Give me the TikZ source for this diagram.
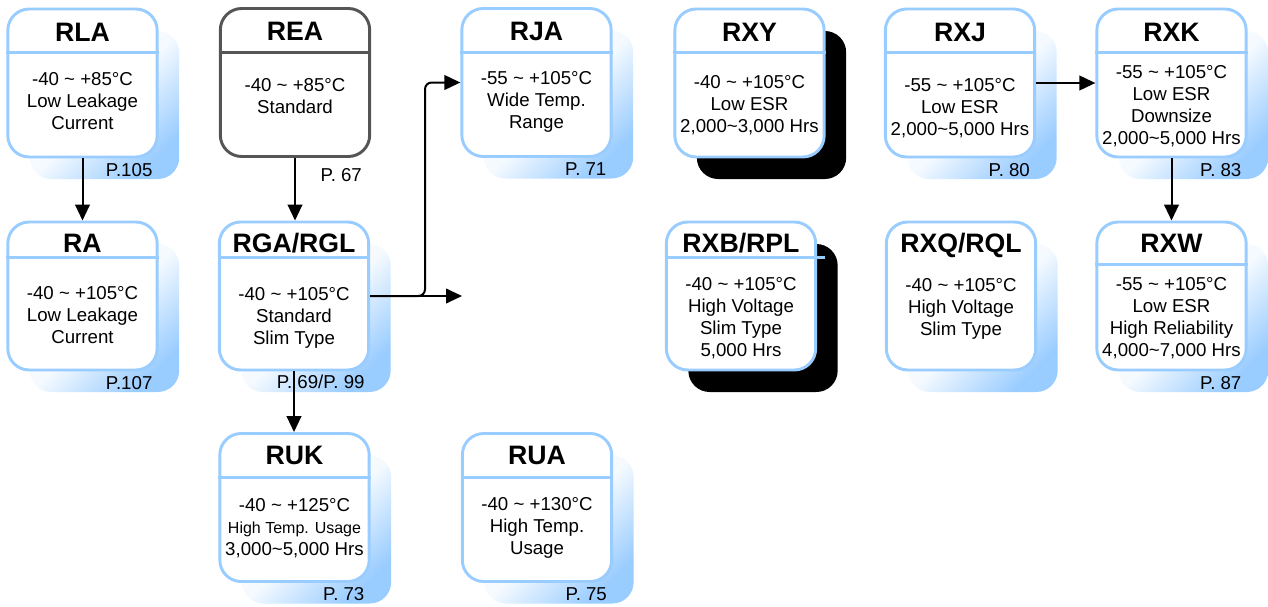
\documentclass[tikz,border=0pt]{standalone}
\usepackage{fontspec}
\setmainfont{Liberation Sans}
\usepackage{tikz}
\usetikzlibrary{arrows.meta,shadows}

\definecolor{boxblue}{HTML}{99CCFF}
\definecolor{shadeblue}{HTML}{99CCFF}
\definecolor{reagray}{HTML}{555555}
\newcommand{\tildech}{\textasciitilde}

\begin{document}
\begin{tikzpicture}[x=0.75pt, y=-0.75pt,
    shadow xshift=16.5pt, shadow yshift=-16.5pt,
    capbox/.style={rectangle, rounded corners=16pt, draw=boxblue, line width=2.2pt, fill=white,
      minimum width=112pt, minimum height=111pt, inner sep=0pt},
    blueshadow/.style={general shadow={top color=white, bottom color=shadeblue, middle color=shadeblue!10,
      shading angle=45}},
    blackshadow/.style={general shadow={fill=black}},
    titletxt/.style={font=\fontsize{20}{24}\selectfont\bfseries, text height=14.3pt, text depth=0pt, inner sep=0pt},
    bodytxt/.style={align=center, font=\fontsize{14}{16.5}\selectfont, inner sep=0pt},
    pagelbl/.style={anchor=east, font=\fontsize{14}{16.5}\selectfont, inner sep=0pt},
    hdrline/.style={draw=boxblue, line width=2.2pt},
    arr/.style={-{Triangle[length=12pt,width=11pt]}, line width=1.5pt}]

  \useasboundingbox (0,0) rectangle (1268,607);

  % Boxes
  \node[capbox, blueshadow] (rla) at (82.5,83) {};
  \node[capbox, draw=reagray] (rea) at (295,82.5) {};
  \node[capbox, blueshadow] (rja) at (536.5,82.5) {};
  \node[capbox, blackshadow] (rxy) at (749.5,83) {};
  \node[capbox, blueshadow] (rxj) at (960,83) {};
  \node[capbox, blueshadow] (rxk) at (1171.5,83) {};
  \node[capbox, blueshadow] (ra) at (82.5,296) {};
  \node[capbox, blueshadow] (rga) at (294,296) {};
  \node[capbox, blackshadow] (rxb) at (741,296) {};
  \node[capbox, blueshadow] (rxq) at (961,296) {};
  \node[capbox, blueshadow] (rxw) at (1171.5,296) {};
  \node[capbox, blueshadow] (ruk) at (294.5,507.5) {};
  \node[capbox, blueshadow] (rua) at (537,507.5) {};

  % Header lines
  \draw[hdrline] ([yshift=-33.75pt]rla.north west) -- ([yshift=-33.75pt]rla.north east);
  \draw[hdrline, draw=reagray] ([yshift=-33.75pt]rea.north west) -- ([yshift=-33.75pt]rea.north east);
  \draw[hdrline] ([yshift=-33.75pt]rja.north west) -- ([yshift=-33.75pt]rja.north east);
  \draw[hdrline] ([yshift=-33.75pt]rxy.north west) -- ([yshift=-33.75pt]rxy.north east);
  \draw[hdrline] ([yshift=-33.75pt]rxj.north west) -- ([yshift=-33.75pt]rxj.north east);
  \draw[hdrline] ([yshift=-33.75pt]rxk.north west) -- ([yshift=-33.75pt]rxk.north east);
  \draw[hdrline] ([yshift=-27.75pt]ra.north west) -- ([yshift=-27.75pt]ra.north east);
  \draw[hdrline] ([yshift=-27.75pt]rga.north west) -- ([yshift=-27.75pt]rga.north east);
  \draw[hdrline] ([yshift=-27.75pt]rxb.north west) -- ([xshift=6pt,yshift=-27.75pt]rxb.north east);
  \draw[hdrline] ([yshift=-33pt]rxw.north west) -- ([yshift=-33pt]rxw.north east);
  \draw[hdrline] ([yshift=-33.75pt]ruk.north west) -- ([yshift=-33.75pt]ruk.north east);
  \draw[hdrline] ([yshift=-33.75pt]rua.north west) -- ([yshift=-33.75pt]rua.north east);

  % Titles
  \node[titletxt] (rla-t) at ([yshift=-18pt]rla.north) {RLA};
  \node[titletxt] (rea-t) at ([yshift=-18pt]rea.north) {REA};
  \node[titletxt] (rja-t) at ([yshift=-18pt]rja.north) {RJA};
  \node[titletxt] (rxy-t) at ([yshift=-18pt]rxy.north) {RXY};
  \node[titletxt] (rxj-t) at ([yshift=-18pt]rxj.north) {RXJ};
  \node[titletxt] (rxk-t) at ([yshift=-18pt]rxk.north) {RXK};
  \node[titletxt] (ra-t) at ([yshift=-17pt]ra.north) {RA};
  \node[titletxt] (rga-t) at ([yshift=-17pt]rga.north) {RGA/RGL};
  \node[titletxt] (rxb-t) at ([yshift=-17pt]rxb.north) {RXB/RPL};
  \node[titletxt] (rxq-t) at ([yshift=-17pt]rxq.north) {RXQ/RQL};
  \node[titletxt] (rxw-t) at ([yshift=-17pt]rxw.north) {RXW};
  \node[titletxt] (ruk-t) at ([yshift=-17pt]ruk.north) {RUK};
  \node[titletxt] (rua-t) at ([yshift=-17pt]rua.north) {RUA};

  % Texts
  \node[bodytxt] (rla-b) at (82.5,101.5) {-40 \tildech{} +85°C\\Low Leakage\\Current};
  \node[bodytxt] (rea-b) at (295,96) {-40 \tildech{} +85°C\\Standard};
  \node[bodytxt] (rja-b) at (536.5,102) {-55 \tildech{} +105°C\\Wide Temp.\\Range};
  \node[bodytxt] (rxy-b) at (749.5,105.5) {-40 \tildech{} +105°C\\Low ESR\\2,000\tildech 3,000 Hrs};
  \node[bodytxt] (rxj-b) at (960,108) {-55 \tildech{} +105°C\\Low ESR\\2,000\tildech 5,000 Hrs};
  \node[bodytxt] (rxk-b) at (1171.5,106.5) {-55 \tildech{} +105°C\\Low ESR\\Downsize\\2,000\tildech 5,000 Hrs};
  \node[bodytxt] (ra-b) at (82.5,315) {-40 \tildech{} +105°C\\Low Leakage\\Current};
  \node[bodytxt] (rga-b) at (294,318) {-40 \tildech{} +105°C\\Standard\\Slim Type};
  \node[bodytxt] (rxb-b) at (741,318) {-40 \tildech{} +105°C\\High Voltage\\Slim Type\\5,000 Hrs};
  \node[bodytxt] (rxq-b) at (961,309) {-40 \tildech{} +105°C\\High Voltage\\Slim Type};
  \node[bodytxt] (rxw-b) at (1171.5,318) {-55 \tildech{} +105°C\\Low ESR\\High Reliability\\4,000\tildech 7,000 Hrs};
  \node[bodytxt] (ruk-b) at (294.5,528) {-40 \tildech{} +125°C\\{\fontsize{12}{14}\selectfont High Temp. Usage}\\3,000\tildech 5,000 Hrs};
  \node[bodytxt] (rua-b) at (537,527.5) {-40 \tildech{} +130°C\\High Temp.\\Usage};

  % Page numbers
  \node[pagelbl] (rla-p) at ([xshift=-4.5pt,yshift=-8.5pt]rla.south east) {P.105};
  \node[pagelbl] (rea-p) at ([xshift=-6.75pt,yshift=-12.5pt]rea.south east) {P. 67};
  \node[pagelbl] (rja-p) at ([xshift=-4.5pt,yshift=-8.5pt]rja.south east) {P. 71};
  \node[pagelbl] (rxj-p) at ([xshift=-4.5pt,yshift=-8.5pt]rxj.south east) {P. 80};
  \node[pagelbl] (rxk-p) at ([xshift=-4.5pt,yshift=-8.5pt]rxk.south east) {P. 83};
  \node[pagelbl] (ra-p) at ([xshift=-4.5pt,yshift=-8.5pt]ra.south east) {P.107};
  \node[pagelbl] (rga-p) at ([xshift=-4pt,yshift=-8pt]rga.south east) {P. 69/P. 99};
  \node[pagelbl] (rxw-p) at ([xshift=-4.5pt,yshift=-8.5pt]rxw.south east) {P. 87};
  \node[pagelbl] (ruk-p) at ([xshift=-4.5pt,yshift=-8.5pt]ruk.south east) {P. 73};
  \node[pagelbl] (rua-p) at ([xshift=-4.5pt,yshift=-8.5pt]rua.south east) {P. 75};

  % Arrows
  \coordinate (split) at (425,296);
  \coordinate (open) at (462,296);
  \draw[arr] (rla) -- (ra);
  \draw[arr] (rea.south) -- (rea.south |- rga.north);
  \draw[arr] (rga.south) -- (rga.south |- ruk.north);
  \draw[arr] (rga.east) -- (open);
  \draw[arr, rounded corners=5pt] (rga.east) -- (split) |- (rja.west);
  \draw[arr] (rxj) -- (rxk);
  \draw[arr] (rxk) -- (rxw);

\end{tikzpicture}
\end{document}
